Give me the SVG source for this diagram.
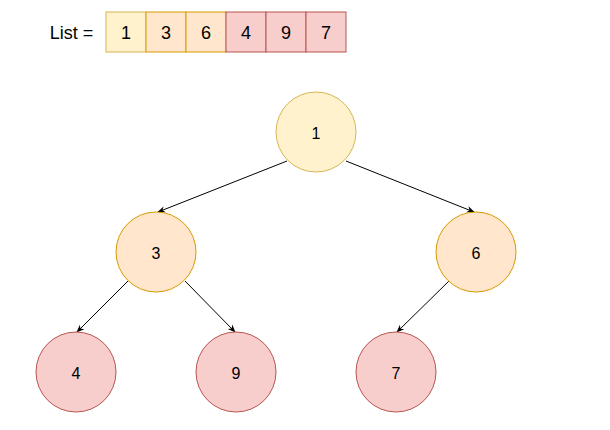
<svg xmlns="http://www.w3.org/2000/svg" width="610" height="430" viewBox="0 0 610 430">
<defs>
<style>
text{font-family:"Liberation Sans",Arial,sans-serif;fill:#000;text-anchor:middle;dominant-baseline:central}
.y{fill:#fff2cc;stroke:#d6b656}
.o{fill:#ffe6cc;stroke:#d79b00}
.r{fill:#f8cecc;stroke:#b85450}
.lbl{font-size:16px}
.big{font-size:18px}
.edge{stroke:#000;stroke-width:1;fill:none;marker-end:url(#arr)}
</style>
<marker id="arr" viewBox="0 0 10 10" refX="9" refY="5" markerWidth="8" markerHeight="8" orient="auto" markerUnits="userSpaceOnUse">
<path d="M0,1 L10,5 L0,9 L3,5 Z" fill="#000"/>
</marker>
</defs>
<g id="list">
<text class="big" x="71.5" y="33">List =</text>
<rect class="y" x="106" y="12" width="40" height="40"/>
<rect class="o" x="146" y="12" width="40" height="40"/>
<rect class="o" x="186" y="12" width="40" height="40"/>
<rect class="r" x="226" y="12" width="40" height="40"/>
<rect class="r" x="266" y="12" width="40" height="40"/>
<rect class="r" x="306" y="12" width="40" height="40"/>
<text class="big" x="126" y="33">1</text>
<text class="big" x="166" y="33">3</text>
<text class="big" x="206" y="33">6</text>
<text class="big" x="246" y="33">4</text>
<text class="big" x="286" y="33">9</text>
<text class="big" x="326" y="33">7</text>
</g>
<g id="connectors">
<path class="edge" d="M287,161 L158,212"/>
<path class="edge" d="M346,161 L474,212"/>
<path class="edge" d="M128,281 L77,332"/>
<path class="edge" d="M185,281 L235,332"/>
<path class="edge" d="M449,281 L397,332"/>
</g>
<g id="n1"><circle class="y" cx="316" cy="132" r="40"/><text class="lbl" x="316" y="133">1</text></g>
<g id="n3"><circle class="o" cx="156" cy="252" r="40"/><text class="lbl" x="156" y="253">3</text></g>
<g id="n6"><circle class="o" cx="476" cy="252" r="40"/><text class="lbl" x="476" y="253">6</text></g>
<g id="n4"><circle class="r" cx="76" cy="372" r="40"/><text class="lbl" x="76" y="373">4</text></g>
<g id="n9"><circle class="r" cx="236" cy="372" r="40"/><text class="lbl" x="236" y="373">9</text></g>
<g id="n7"><circle class="r" cx="396" cy="372" r="40"/><text class="lbl" x="396" y="373">7</text></g>
</svg>
